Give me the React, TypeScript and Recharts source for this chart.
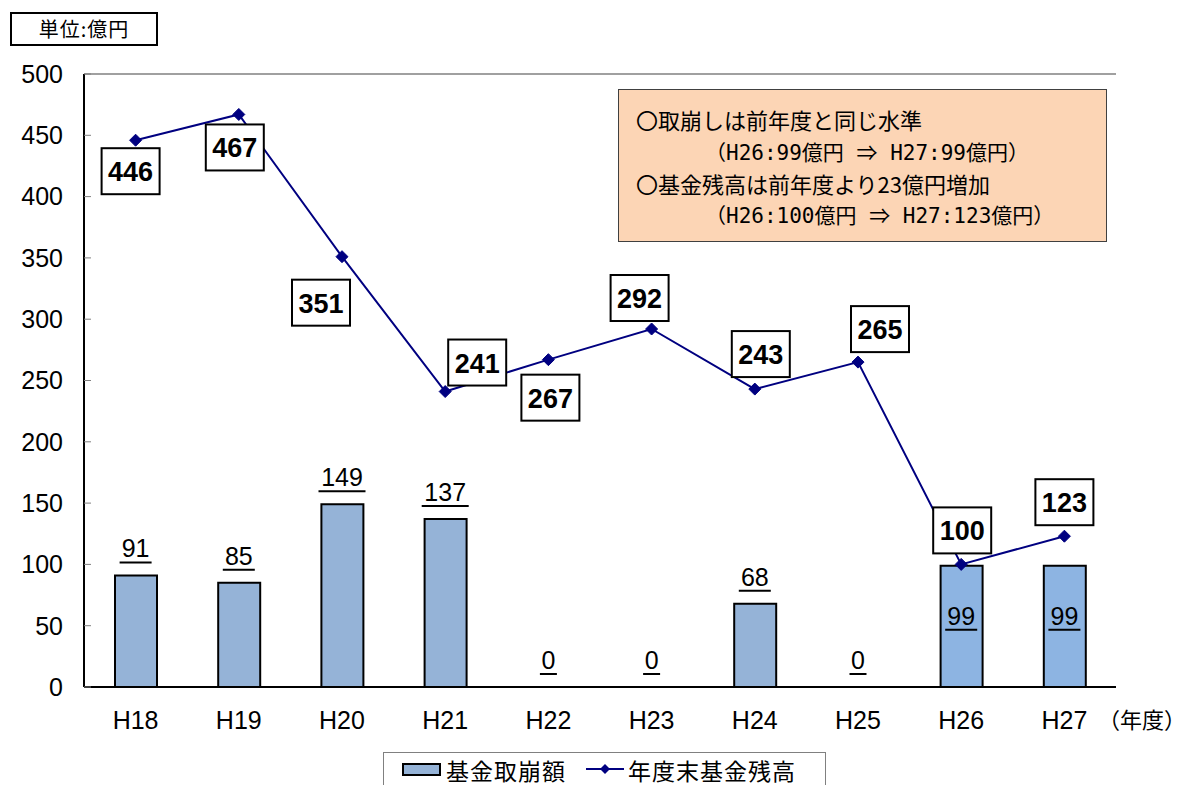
import {
  ComposedChart,
  Bar,
  Line,
  XAxis,
  YAxis,
  Cell,
  LabelList,
  Legend,
  ReferenceLine,
} from 'recharts';

// 年度
const years = ['H18', 'H19', 'H20', 'H21', 'H22', 'H23', 'H24', 'H25', 'H26', 'H27'];
// 基金取崩額（億円）
const drawdown = [91, 85, 149, 137, 0, 0, 68, 0, 99, 99];
// 年度末基金残高（億円）
const balance = [446, 467, 351, 241, 267, 292, 243, 265, 100, 123];
const yTicks = [0, 50, 100, 150, 200, 250, 300, 350, 400, 450, 500];
const boundaryTicks = [0, 1, 2, 3, 4, 5, 6, 7, 8, 9, 10];

// ラベル位置の微調整（点からのずれ）
const boxOffsets = [
  [-5, 31], [-4, 33], [-21, 46], [32, -29], [2, 38],
  [-12, -31], [6, -35], [22, -33], [1, -34], [0, -34],
];

const data = years.map((year, i) => ({
  year,
  drawdown: drawdown[i],
  balance: balance[i],
}));

const FONT = '"Liberation Sans", Arial, "Noto Sans CJK JP", sans-serif';
const JP = '"Noto Sans CJK JP", "Liberation Sans", sans-serif';
const MONO = '"DejaVu Sans Mono", "Noto Sans CJK JP", monospace';
const NAVY = '#000080';

const Diamond = (props: any) => {
  const { cx, cy } = props;
  if (cx == null || cy == null) return null;
  const r = 6;
  return (
    <polygon
      points={`${cx},${cy - r} ${cx + r},${cy} ${cx},${cy + r} ${cx - r},${cy}`}
      fill={NAVY}
      stroke={NAVY}
    />
  );
};

// 棒の値（下線付き）。H26・H27は棒の中
const BarValue = (props: any) => {
  const { x, y, value, index } = props;
  const inside = index >= 8;
  const ty = inside ? y + 50 : y - 27;
  const w = String(value).length * 15 + 2;
  return (
    <g>
      <text
        x={x}
        y={ty}
        textAnchor="middle"
        dominantBaseline="central"
        fontSize={25}
        fontFamily={FONT}
        fill="#000"
      >
        {value}
      </text>
      <line x1={x - w / 2} x2={x + w / 2} y1={ty + 14} y2={ty + 14} stroke="#000" strokeWidth={2} />
    </g>
  );
};

const BoxValue = (props: any) => {
  const { x, y, value, index } = props;
  const [dx, dy] = boxOffsets[index] || [0, -34];
  const cx = x + dx;
  const cy = y + dy;
  return (
    <g>
      <rect x={cx - 29} y={cy - 23} width={58} height={46} fill="#fff" stroke="#000" strokeWidth={2} />
      <text
        x={cx}
        y={cy + 1}
        textAnchor="middle"
        dominantBaseline="central"
        fontSize={27}
        fontWeight="bold"
        fontFamily={FONT}
        fill="#000"
      >
        {value}
      </text>
    </g>
  );
};

const LegendBox = () => (
  <div
    style={{
      width: 441,
      height: 33,
      border: '1px solid #808080',
      borderBottom: 'none',
      background: '#fff',
      display: 'flex',
      alignItems: 'center',
      fontFamily: JP,
      fontSize: 23,
      color: '#000',
      boxSizing: 'content-box',
    }}
  >
    <svg width={62} height={33} style={{ display: 'block' }}>
      <rect x={19} y={11} width={37} height={11} fill="#95B3D7" stroke="#000" strokeWidth={2} />
    </svg>
    <span style={{ lineHeight: '28px', letterSpacing: 1 }}>基金取崩額</span>
    <svg width={62} height={33} style={{ display: 'block' }}>
      <line x1={20} x2={58} y1={16} y2={16} stroke={NAVY} strokeWidth={2} />
      <polygon points="39,11 44,16 39,21 34,16" fill={NAVY} />
    </svg>
    <span style={{ lineHeight: '28px', letterSpacing: 1 }}>年度末基金残高</span>
  </div>
);

export default function App() {
  return (
    <div style={{ position: 'absolute', left: 0, top: 0, width: 1187, height: 785, background: '#fff', overflow: 'hidden' }}>
      <ComposedChart
        width={1187}
        height={785}
        data={data}
        margin={{ top: 74, right: 71, left: 0, bottom: 25 }}
      >
        <XAxis
          xAxisId="grid"
          type="number"
          domain={[0, 10]}
          ticks={boundaryTicks}
          allowDataOverflow
          height={0}
          mirror
          tick={false}
          tickSize={5}
          axisLine={false}
          tickLine={{ stroke: '#808080' }}
        />
        <XAxis
          xAxisId="cat"
          dataKey="year"
          height={40}
          tickLine={false}
          axisLine={{ stroke: '#000', strokeWidth: 2 }}
          tickMargin={18}
          tick={{ fontSize: 25, fill: '#000', fontFamily: FONT }}
          interval={0}
        />
        <YAxis
          type="number"
          domain={[0, 500]}
          ticks={yTicks}
          width={84}
          interval={0}
          tickSize={-7}
          tickMargin={28}
          axisLine={{ stroke: '#000', strokeWidth: 2 }}
          tickLine={{ stroke: '#808080' }}
          tick={{ fontSize: 25, fill: '#000', fontFamily: FONT }}
        />
        <ReferenceLine y={500} xAxisId="cat" stroke="#808080" strokeWidth={1.5} />
        <ReferenceLine x={10} xAxisId="grid" stroke="#808080" strokeWidth={1.5} />
        <Legend
          content={<LegendBox />}
          height={33}
          wrapperStyle={{ left: 383, top: 752, width: 443, bottom: 'auto' }}
        />
        <Bar
          xAxisId="cat"
          dataKey="drawdown"
          name="基金取崩額"
          barSize={42}
          stroke="#000"
          strokeWidth={2}
          isAnimationActive={false}
        >
          {data.map((d, i) => (
            <Cell key={d.year} fill={i >= 8 ? '#8DB4E2' : '#95B3D7'} />
          ))}
        </Bar>
        <Line
          xAxisId="cat"
          dataKey="drawdown"
          stroke="none"
          dot={false}
          activeDot={false}
          legendType="none"
          isAnimationActive={false}
        >
          <LabelList dataKey="drawdown" content={<BarValue />} />
        </Line>
        <Line
          xAxisId="cat"
          dataKey="balance"
          stroke="none"
          dot={false}
          activeDot={false}
          legendType="none"
          isAnimationActive={false}
        >
          <LabelList dataKey="balance" content={<BoxValue />} />
        </Line>
        <Line
          xAxisId="cat"
          dataKey="balance"
          name="年度末基金残高"
          stroke={NAVY}
          strokeWidth={2}
          dot={<Diamond />}
          activeDot={false}
          isAnimationActive={false}
        />
      </ComposedChart>

      <div
        style={{
          position: 'absolute',
          left: 1098,
          top: 703,
          fontFamily: JP,
          fontSize: 22,
          lineHeight: '30px',
          whiteSpace: 'nowrap',
          color: '#000',
        }}
      >
        （年度）
      </div>

      <div
        style={{
          position: 'absolute',
          left: 10,
          top: 12,
          width: 144,
          height: 30,
          border: '2px solid #000',
          fontFamily: JP,
          fontSize: 20,
          letterSpacing: 1,
          lineHeight: '30px',
          textAlign: 'center',
          color: '#000',
        }}
      >
        単位:億円
      </div>

      <div
        style={{
          position: 'absolute',
          left: 618,
          top: 89,
          width: 487,
          height: 151,
          background: '#FCD5B5',
          border: '1.5px solid #404040',
          fontFamily: JP,
          fontSize: 22,
          color: '#000',
          whiteSpace: 'nowrap',
          boxSizing: 'content-box',
        }}
      >
        <div style={{ position: 'absolute', left: 17, top: 13, lineHeight: '32px' }}>〇取崩しは前年度と同じ水準</div>
        <div style={{ position: 'absolute', left: 86, top: 45, lineHeight: '32px', fontFamily: MONO, fontSize: 21 }}>
          （H26:99億円 <span style={{ fontFamily: JP }}>⇒</span> H27:99億円）
        </div>
        <div style={{ position: 'absolute', left: 17, top: 77, lineHeight: '32px' }}>〇基金残高は前年度より23億円増加</div>
        <div style={{ position: 'absolute', left: 86, top: 108, lineHeight: '32px', fontFamily: MONO, fontSize: 21 }}>
          （H26:100億円 <span style={{ fontFamily: JP }}>⇒</span> H27:123億円）
        </div>
      </div>
    </div>
  );
}
